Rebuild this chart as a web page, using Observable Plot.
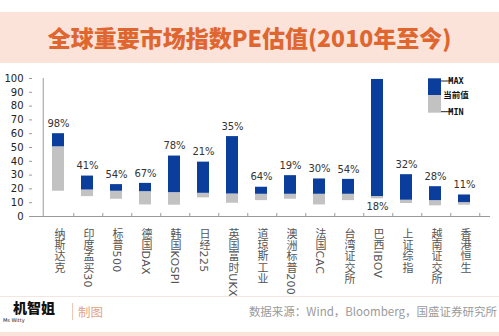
<!DOCTYPE html>
<html><head><meta charset="utf-8">
<script src="https://cdn.jsdelivr.net/npm/d3@7"></script>
<script src="https://cdn.jsdelivr.net/npm/@observablehq/plot@0.6"></script>
<style>
body{margin:0;background:#fff;}
#wrap{position:relative;width:499px;height:336px;overflow:hidden;background:#fff;font-family:"Noto Sans CJK SC",sans-serif;}
#title{position:absolute;left:0;top:12px;width:499px;height:51px;background:#FBE3DA;color:#E0662F;font-weight:900;font-size:23px;line-height:51px;text-align:center;letter-spacing:0px;}
#chart{position:absolute;left:0;top:66px;}
#footline{position:absolute;left:0;top:296px;width:499px;height:1px;background:#F3E6E1;}
#logo{position:absolute;left:13px;top:299px;font-size:14px;font-weight:900;color:#111;line-height:16px;}
#ms{position:absolute;left:3px;top:317px;font-size:5px;line-height:6px;font-family:"DejaVu Sans",sans-serif;color:#111;}
#divider{position:absolute;left:72px;top:303px;width:1px;height:17px;background:#EBC9BA;}
#zhitu{position:absolute;left:78px;top:303px;font-size:12.5px;color:#E3A386;line-height:17px;}
#source{position:absolute;right:2px;top:303px;font-size:11.5px;color:#9A9A9A;line-height:17px;white-space:nowrap;}
#bottom{position:absolute;left:0;top:332px;width:499px;height:4px;background:#FBE3DA;}
</style>
</head><body>
<div id="wrap">
  <div id="title">全球重要市场指数PE估值(2010年至今)</div>
  <div id="chart"></div>
  <div id="footline"></div>
  <div id="logo">机智姐</div>
  <div id="ms">Ms Witty</div>
  <div id="divider"></div>
  <div id="zhitu">制图</div>
  <div id="source">数据来源：Wind，Bloomberg，国盛证券研究所</div>
  <div id="bottom"></div>
</div>
<script>
const names = ["纳斯达克","印度孟买30","标普500","德国DAX","韩国KOSPI","日经225","英国富时UKX","道琼斯工业","澳洲标普200","法国CAC","台湾证交所","巴西IBOV","上证综指","越南证交所","香港恒生"];
const maxPE = [60, 29.3, 23.1, 24, 43.8, 39.4, 57.9, 21.2, 29.6, 27.2, 26.9, 99.3, 30.3, 21.6, 15.6];
const curPE = [50.5, 19.2, 18.3, 18, 17.3, 16.8, 16.3, 16.1, 16.1, 16.1, 16.1, 14.5, 11.8, 11.5, 10.1];
const minPE = [18.3, 14.4, 12.5, 8.4, 8.2, 13.5, 9.6, 11.5, 12.5, 8.4, 11.5, 12.8, 9.4, 7.7, 8.2];
const pctLabels = ["98%","41%","54%","67%","78%","21%","35%","64%","19%","30%","54%","18%","32%","28%","11%"];
const labelBelow = ["巴西IBOV"];
const yTicks = [0,10,20,30,40,50,60,70,80,90,100];
const legendLabels = ["MAX","当前值","MIN"];

const BLUE = "#0B3D9C", GRAY = "#C2C2C2", AXIS = "#9A9A9A";
const data = names.map((name,i)=>({name, max:maxPE[i], cur:curPE[i], min:minPE[i], pct:pctLabels[i]}));
const W=499, H=226, mL=32, mR=9, mT=12, mB=76;
const step = (W-mL-mR)/names.length;

const chart = Plot.plot({
  width:W, height:H, marginLeft:mL, marginRight:mR, marginTop:mT, marginBottom:mB,
  style:{fontFamily:'"DejaVu Sans","Noto Sans CJK SC",sans-serif', fontSize:"10px", color:"#222", background:"transparent", overflow:"visible"},
  x:{type:"band", domain:names, padding:0.6, axis:null},
  y:{domain:[0,100], axis:null},
  marks:[
    Plot.barY(data,{x:"name", y1:"min", y2:"cur", fill:GRAY}),
    Plot.barY(data,{x:"name", y1:"cur", y2:"max", fill:BLUE}),
    Plot.ruleY([0],{stroke:AXIS}),
    Plot.ruleX([names[0]],{y1:0, y2:100, dx:-step/2, stroke:AXIS}),
    Plot.ruleX(names,{y1:0, y2:2.2, dx:step/2, stroke:AXIS}),
    Plot.axisY(yTicks,{tickSize:3, tickPadding:6, label:null, stroke:AXIS, fill:"#222", fontSize:10}),
    Plot.text(data.filter(d=>!labelBelow.includes(d.name)),{x:"name", y:"max", text:"pct", dy:-10, fill:"#333", fontSize:10}),
    Plot.text(data.filter(d=>labelBelow.includes(d.name)),{x:"name", y:"min", text:"pct", dy:8, fill:"#333", fontSize:10}),
    Plot.text(data,{x:"name", y:0, text:"name", dy:8, textAnchor:"start", fill:"#555", fontSize:11})
  ]
});
document.getElementById("chart").appendChild(chart);

// vertical category labels
const nameSet = new Set(names);
chart.querySelectorAll("text").forEach(t=>{
  if (nameSet.has(t.textContent)) {
    t.style.writingMode = "vertical-rl";
    t.style.letterSpacing = "0.3px";
    t.removeAttribute("dy");
  }
});

// legend
const svg = d3.select(chart);
const lg = svg.append("g");
lg.append("rect").attr("x",428).attr("y",12.3).attr("width",13).attr("height",16.7).attr("fill",BLUE);
lg.append("rect").attr("x",428).attr("y",29).attr("width",13).attr("height",17.7).attr("fill",GRAY);
lg.append("line").attr("x1",441).attr("x2",453).attr("y1",15).attr("y2",15).attr("stroke","#222");
lg.append("line").attr("x1",441).attr("x2",453).attr("y1",45.7).attr("y2",45.7).attr("stroke","#222");
const ly = [15, 29, 45.7];
legendLabels.forEach((s,i)=>{
  lg.append("text").attr("x",456).attr("y",ly[i]).attr("dy","0.35em")
    .attr("font-family", i===1 ? '"Noto Sans CJK SC",sans-serif' : '"DejaVu Sans Mono",monospace')
    .attr("font-weight","bold").attr("font-size", 8.5).attr("fill","#111").text(s);
});
</script>
</body></html>
